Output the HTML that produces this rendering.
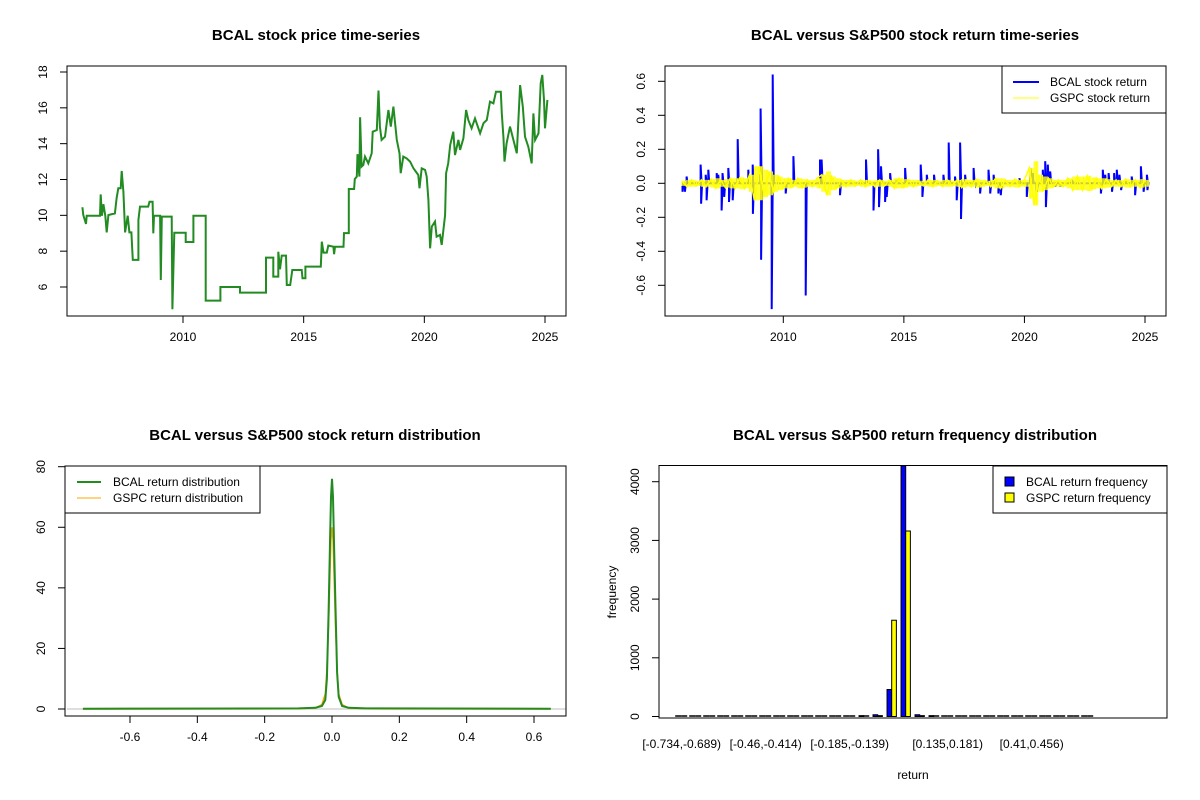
<!DOCTYPE html>
<html><head><meta charset="utf-8">
<style>
html,body{margin:0;padding:0;background:#fff;}
svg{display:block;font-family:"Liberation Sans",Arial,sans-serif;}
.t{font-size:12px;fill:#000;}
.ttl{font-size:15px;font-weight:bold;fill:#000;}
</style></head>
<body>
<svg id="root" width="1200" height="800" viewBox="0 0 1200 800" xmlns="http://www.w3.org/2000/svg"></svg>
<script>
// ---------- data ----------
const priceYears=[2005.83,2005.87,2005.98,2006.01,2006.56,2006.59,2006.64,2006.70,2006.78,2006.84,2006.91,2007.18,2007.25,2007.32,2007.42,2007.46,2007.53,2007.60,2007.71,2007.78,2007.86,2007.89,2007.92,2008.15,2008.15,2008.22,2008.56,2008.61,2008.74,2008.77,2008.80,2009.05,2009.08,2009.12,2009.53,2009.56,2009.64,2010.11,2010.11,2010.43,2010.43,2010.94,2010.94,2011.55,2011.55,2012.36,2012.36,2013.44,2013.44,2013.74,2013.74,2013.95,2013.95,2014.02,2014.09,2014.27,2014.30,2014.44,2014.53,2014.92,2014.95,2015.07,2015.07,2015.71,2015.75,2015.82,2015.96,2016.02,2016.23,2016.26,2016.30,2016.65,2016.67,2016.87,2016.87,2017.09,2017.12,2017.20,2017.23,2017.31,2017.34,2017.40,2017.47,2017.54,2017.68,2017.82,2017.86,2018.03,2018.10,2018.16,2018.23,2018.37,2018.51,2018.61,2018.72,2018.86,2018.97,2019.02,2019.13,2019.27,2019.41,2019.55,2019.75,2019.80,2019.89,2020.03,2020.10,2020.17,2020.24,2020.31,2020.44,2020.51,2020.65,2020.72,2020.86,2020.90,2020.99,2021.07,2021.20,2021.27,2021.41,2021.48,2021.62,2021.73,2021.82,2021.96,2022.10,2022.31,2022.45,2022.59,2022.72,2022.86,2022.97,2023.17,2023.21,2023.28,2023.32,2023.41,2023.55,2023.69,2023.83,2023.97,2024.08,2024.17,2024.31,2024.45,2024.52,2024.59,2024.73,2024.82,2024.89,2024.96,2025.00,2025.10];
const priceValues=[10.45,10.02,9.52,9.98,9.98,11.17,9.98,10.62,9.98,9.05,10.02,10.11,10.95,11.51,11.51,12.48,11.32,9.05,9.98,9.05,9.05,8.25,7.51,7.51,9.74,10.49,10.49,10.76,10.76,9.00,9.98,9.98,6.39,9.93,9.93,4.76,9.03,9.03,8.51,8.51,9.98,9.98,5.24,5.24,6.00,6.00,5.69,5.69,7.64,7.64,6.58,6.58,7.97,6.99,7.75,7.75,6.11,6.11,6.95,6.95,6.49,6.49,7.14,7.14,8.53,7.92,7.92,8.31,8.25,7.83,8.25,8.25,9.01,9.01,11.47,11.47,12.03,12.16,13.42,12.16,15.47,12.72,12.81,13.28,12.90,13.46,14.67,14.76,16.96,14.95,14.21,14.39,15.88,14.95,16.07,14.21,13.46,12.35,13.28,13.18,13.00,12.62,12.25,11.51,12.62,12.53,12.16,10.86,8.16,9.37,9.65,8.81,8.91,8.35,10.02,12.35,12.90,13.93,14.67,13.37,14.21,13.65,14.30,15.88,15.32,14.86,15.41,14.58,15.14,15.32,16.35,16.25,16.90,16.90,15.69,14.30,13.00,14.02,14.95,14.21,13.46,17.27,16.07,14.39,13.83,12.90,15.69,14.21,14.58,17.37,17.83,16.44,14.86,16.44];

const retYears=[2005.82,2005.92,2005.99,2006.57,2006.59,2006.78,2006.82,2006.89,2007.24,2007.30,2007.44,2007.48,2007.55,2007.72,2007.75,2007.90,2008.11,2008.55,2008.73,2008.74,2009.06,2009.08,2009.52,2009.56,2010.10,2010.42,2010.93,2011.52,2011.59,2012.35,2013.43,2013.74,2013.93,2013.97,2014.05,2014.22,2014.29,2014.43,2014.70,2015.05,2015.70,2015.77,2015.95,2016.25,2016.64,2016.86,2017.12,2017.19,2017.33,2017.37,2017.54,2017.89,2018.00,2018.16,2018.51,2018.58,2018.72,2018.92,2019.02,2019.79,2020.10,2020.24,2020.35,2020.51,2020.76,2020.86,2020.89,2020.97,2021.07,2021.27,2021.48,2021.97,2023.17,2023.25,2023.35,2023.49,2023.63,2023.72,2023.83,2023.94,2024.01,2024.18,2024.45,2024.59,2024.83,2024.94,2025.08,2025.10];
const retValues=[-0.05,-0.05,0.04,0.11,-0.12,0.05,-0.10,0.08,0.06,0.05,-0.16,0.06,-0.08,0.09,-0.11,-0.10,0.26,0.08,0.11,-0.18,0.44,-0.45,-0.74,0.64,-0.06,0.16,-0.66,0.14,0.14,-0.07,0.14,-0.16,0.20,-0.14,0.10,-0.11,-0.08,0.06,0.02,0.09,0.11,-0.08,0.05,0.05,0.05,0.24,0.04,-0.10,0.24,-0.21,0.05,0.09,-0.01,-0.06,0.08,-0.06,0.05,-0.06,-0.07,0.03,-0.08,0.09,0.06,-0.05,0.08,0.13,-0.14,0.11,0.07,-0.02,-0.02,0.02,-0.06,0.08,0.05,0.06,-0.05,0.06,0.08,0.05,-0.04,0.02,0.04,-0.07,0.10,-0.05,0.05,-0.04];

const gspcStart=2005.8, gspcStep=0.2;
const gspcValues=[0.015,-0.02,0.02,-0.015,0.02,-0.02,0.025,-0.03,0.02,-0.025,0.03,-0.03,0.035,-0.03,0.05,-0.10,0.10,-0.08,0.07,-0.05,0.04,-0.03,0.03,-0.02,0.03,-0.025,0.02,-0.02,0.03,0.05,-0.07,0.04,-0.03,0.02,-0.02,0.02,-0.015,0.02,-0.02,0.015,-0.02,0.02,-0.015,0.02,-0.03,0.03,-0.025,0.02,-0.02,0.015,-0.015,0.02,-0.02,0.015,-0.02,0.02,-0.015,0.02,-0.025,0.02,-0.02,0.025,-0.02,0.015,-0.02,0.03,-0.03,0.02,-0.02,0.025,-0.02,0.02,0.09,-0.13,0.05,-0.04,0.03,-0.02,0.02,-0.02,0.03,-0.04,0.04,-0.04,0.045,-0.035,0.03,-0.03,0.025,-0.02,0.02,-0.02,0.025,-0.02,0.02,-0.025,0.02];

const densX=[-0.74,-0.1,-0.05,-0.03,-0.02,-0.015,-0.01,-0.006,-0.003,0,0.003,0.006,0.01,0.015,0.02,0.03,0.05,0.1,0.65];
const bcalDens=[0.1,0.2,0.4,1,3,10,32,55,70,76,70,55,35,12,4,1,0.4,0.2,0.1];
const gspcDens=[0,0.05,0.3,1.5,5,13,28,45,56,60,56,45,28,13,5,1.5,0.3,0.05,0];

const bcalFreq=[1,0,0,0,0,0,1,0,0,0,1,2,4,15,30,460,4270,30,15,4,2,1,0,0,0,0,0,0,0,1];
const gspcFreq=[0,0,0,0,0,0,0,0,0,0,0,0,1,5,15,1640,3160,15,3,1,0,0,0,0,0,0,0,0,0,0];
const binLabelIdx=[0,6,12,19,25];
const binLabels=["[-0.734,-0.689)","[-0.46,-0.414)","[-0.185,-0.139)","[0.135,0.181)","[0.41,0.456)"];

// ---------- helpers ----------
const NS="http://www.w3.org/2000/svg";
const root=document.getElementById('root');
function el(tag,attrs,parent,text){const e=document.createElementNS(NS,tag);for(const k in attrs)e.setAttribute(k,attrs[k]);if(text!==undefined)e.textContent=text;(parent||root).appendChild(e);return e;}
function lin(d0,d1,r0,r1){return v=>r0+(v-d0)*(r1-r0)/(d1-d0);}
function panel(name){const g=el('g',{});return g;}
function box(g,x0,y0,x1,y1){const r=el('rect',{x:x0,y:y0,width:x1-x0,height:y1-y0,fill:'none',stroke:'#000','stroke-width':1},g);}
function title(g,x,y,s){const t=el('text',{x:x,y:y,'text-anchor':'middle',class:'ttl'},g,s);}
function xAxis(g,ticks,labels,sx,yb){const a=el('g',{},g);
 el('line',{x1:sx(ticks[0]),x2:sx(ticks[ticks.length-1]),y1:yb,y2:yb,stroke:'#000'},a);
 ticks.forEach((t,i)=>{el('line',{x1:sx(t),x2:sx(t),y1:yb,y2:yb+7,stroke:'#000'},a);const l=el('text',{x:sx(t),y:yb+25,'text-anchor':'middle',class:'t'},a,labels[i]);});}
function yAxis(g,ticks,labels,sy,xb){const a=el('g',{},g);
 el('line',{x1:xb,x2:xb,y1:sy(ticks[0]),y2:sy(ticks[ticks.length-1]),stroke:'#000'},a);
 ticks.forEach((t,i)=>{el('line',{x1:xb-7,x2:xb,y1:sy(t),y2:sy(t),stroke:'#000'},a);const x=xb-20,y=sy(t);const l=el('text',{x:x,y:y,'text-anchor':'middle',transform:`rotate(-90 ${x} ${y})`,class:'t'},a,labels[i]);});}
function poly(g,xs,ys,sx,sy,attrs){return el('polyline',Object.assign({points:xs.map((x,i)=>sx(x).toFixed(1)+','+sy(ys[i]).toFixed(1)).join(' '),fill:'none'},attrs),g);}

// ---------- panel 1: price ----------
{const g=panel('price-chart');
 const sx=lin(2010,2025,183,545), sy=lin(6,18,287,72);
 title(g,316,40,'BCAL stock price time-series');
 const p=poly(g,priceYears,priceValues,sx,sy,{stroke:'#228b22','stroke-width':2,'stroke-linejoin':'miter'});
 
 box(g,67,66,566,316);
 xAxis(g,[2010,2015,2020,2025],['2010','2015','2020','2025'],sx,316);
 yAxis(g,[6,8,10,12,14,16,18],['6','8','10','12','14','16','18'],sy,67);}

// ---------- panel 2: returns ----------
{const g=panel('returns-chart');
 const sx=lin(2010,2025,783.3,1145), sy=lin(0,0.6,183.3,81.3);
 title(g,915,40,'BCAL versus S&P500 stock return time-series');
 let d=`M${sx(2005.8)},${sy(0)} `;
 retYears.forEach((y,i)=>{d+=`L${sx(y).toFixed(1)},${sy(0)} L${sx(y).toFixed(1)},${sy(retValues[i]).toFixed(1)} L${(sx(y)+1).toFixed(1)},${sy(0)} `;});
 d+=`L${sx(2025.1)},${sy(0)}`;
 const b=el('path',{d:d,fill:'none',stroke:'#0000ff','stroke-width':2},g);
 
 const gy=gspcValues.map((v,i)=>gspcStart+i*gspcStep);
 let bd='';
 gspcValues.forEach((v,i)=>{const a=Math.abs(v);for(let k=0;k<4;k++){const x=sx(gy[i]+k*gspcStep/4).toFixed(1);bd+=`M${x},${sy(a).toFixed(1)} V${sy(-a).toFixed(1)} `;}});
 const band=el('path',{d:bd,fill:'none',stroke:'#ffff00','stroke-width':1},g);
 
 const y=poly(g,gy,gspcValues,sx,sy,{stroke:'#ffff00','stroke-width':1.5});
 
 box(g,665,66,1166,316);
 xAxis(g,[2010,2015,2020,2025],['2010','2015','2020','2025'],sx,316);
 yAxis(g,[-0.6,-0.4,-0.2,0,0.2,0.4,0.6],['-0.6','-0.4','-0.2','0.0','0.2','0.4','0.6'],sy,665);
 const lg=el('g',{},g);
 el('rect',{x:1002,y:66,width:164,height:47,fill:'#fff',stroke:'#000'},lg);
 el('line',{x1:1013,x2:1039,y1:82,y2:82,stroke:'#0000ff','stroke-width':2},lg);
 el('line',{x1:1013,x2:1039,y1:98,y2:98,stroke:'#ffff00','stroke-width':1},lg);
 const t1=el('text',{x:1050,y:86,class:'t'},lg,'BCAL stock return');
 const t2=el('text',{x:1050,y:102,class:'t'},lg,'GSPC stock return');}

// ---------- panel 3: density ----------
{const g=panel('density-chart');
 const sx=lin(0,0.6,332,534), sy=lin(0,80,709,466.7);
 title(g,315,440,'BCAL versus S&P500 stock return distribution');
 const gl=el('line',{x1:67,x2:566,y1:sy(0),y2:sy(0),stroke:'#bebebe'},g);
 const o=poly(g,densX,gspcDens,sx,sy,{stroke:'#ffa500','stroke-width':1.5});
 const gr=poly(g,densX,bcalDens,sx,sy,{stroke:'#228b22','stroke-width':2});
 box(g,65,466,566,716);
 xAxis(g,[-0.6,-0.4,-0.2,0,0.2,0.4,0.6],['-0.6','-0.4','-0.2','0.0','0.2','0.4','0.6'],sx,716);
 yAxis(g,[0,20,40,60,80],['0','20','40','60','80'],sy,65);
 const lg=el('g',{},g);
 el('rect',{x:65,y:466,width:195,height:47,fill:'#fff',stroke:'#000'},lg);
 el('line',{x1:77,x2:101,y1:482,y2:482,stroke:'#228b22','stroke-width':2},lg);
 el('line',{x1:77,x2:101,y1:498,y2:498,stroke:'#ffa500','stroke-width':1},lg);
 const t1=el('text',{x:113,y:486,class:'t'},lg,'BCAL return distribution');
 const t2=el('text',{x:113,y:502,class:'t'},lg,'GSPC return distribution');}

// ---------- panel 4: histogram ----------
{const g=panel('frequency-chart');
 const bx=lin(0,29,681.7,1087.7), sy=lin(0,4000,716.5,481.7);
 title(g,915,440,'BCAL versus S&P500 return frequency distribution');
 const bw=4.67;
 bcalFreq.forEach((v,i)=>{let r;
  if(v<8){r=el('line',{x1:bx(i)-6.5,x2:bx(i)-0.5,y1:sy(0)-0.5,y2:sy(0)-0.5,stroke:'#000','stroke-width':1.5},g);}
  else r=el('rect',{x:bx(i)-bw,y:sy(v),width:bw,height:sy(0)-sy(v),fill:'#0000ff',stroke:'#000','stroke-width':1},g);
  });
 gspcFreq.forEach((v,i)=>{let r;
  if(v<8){r=el('line',{x1:bx(i)-0.5,x2:bx(i)+5.5,y1:sy(0)-0.5,y2:sy(0)-0.5,stroke:'#000','stroke-width':1.5},g);}
  else r=el('rect',{x:bx(i),y:sy(v),width:bw,height:sy(0)-sy(v),fill:'#ffff00',stroke:'#000','stroke-width':1},g);
  });
 box(g,659,465.5,1167,718);
 binLabelIdx.forEach((k,j)=>{const t=el('text',{x:bx(k),y:748,'text-anchor':'middle',class:'t'},g,binLabels[j]);});
 yAxis(g,[0,1000,2000,3000,4000],['0','1000','2000','3000','4000'],sy,659);
 const xt=el('text',{x:913,y:779,'text-anchor':'middle',class:'t'},g,'return');
 const yt=el('text',{x:616,y:592,'text-anchor':'middle',transform:'rotate(-90 616 592)',class:'t'},g,'frequency');
 const lg=el('g',{},g);
 el('rect',{x:993,y:466,width:174,height:47,fill:'#fff',stroke:'#000'},lg);
 el('rect',{x:1005,y:477,width:9,height:9,fill:'#0000ff',stroke:'#000'},lg);
 el('rect',{x:1005,y:493,width:9,height:9,fill:'#ffff00',stroke:'#000'},lg);
 const t1=el('text',{x:1026,y:486,class:'t'},lg,'BCAL return frequency');
 const t2=el('text',{x:1026,y:502,class:'t'},lg,'GSPC return frequency');}
</script>
</body></html>
